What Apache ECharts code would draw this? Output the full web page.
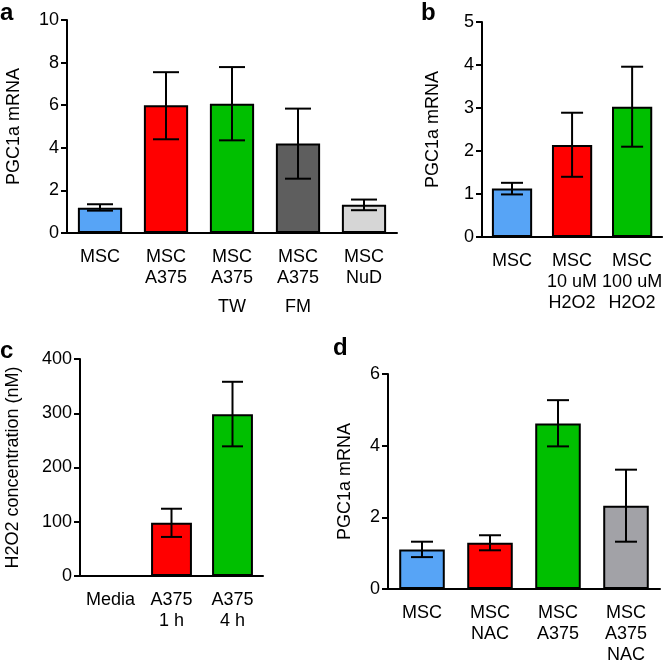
<!DOCTYPE html>
<html>
<head>
<meta charset="utf-8">
<script src="https://cdn.jsdelivr.net/npm/echarts@6/dist/echarts.min.js"></script>
<style>
html,body{margin:0;padding:0;background:#fff;}
#chart{width:665px;height:666px;}
</style>
</head>
<body>
<div id="chart"></div>
<script>
// ---- data ----
var catsA = ['MSC', 'MSC\nA375', 'MSC\nA375\nTW', 'MSC\nA375\nFM', 'MSC\nNuD'];
var valsA = [1.19, 6.0, 6.07, 4.2, 1.33];
var errLowA = [1.05, 4.4, 4.35, 2.55, 1.07];
var errHighA = [1.35, 7.55, 7.79, 5.84, 1.57];

var catsB = ['MSC', 'MSC\n10 uM\nH2O2', 'MSC\n100 uM\nH2O2'];
var valsB = [1.13, 2.14, 3.03];
var errLowB = [0.99, 1.40, 2.10];
var errHighB = [1.26, 2.89, 3.96];

var catsC = ['Media', 'A375\n1 h', 'A375\n4 h'];
var valsC = [0, 98, 298];
var errLowC = [null, 72, 239];
var errHighC = [null, 124, 358];

var catsD = ['MSC', 'MSC\nNAC', 'MSC\nA375', 'MSC\nA375\nNAC'];
var valsD = [1.10, 1.29, 4.62, 2.32];
var errLowD = [0.89, 1.08, 3.98, 1.32];
var errHighD = [1.32, 1.50, 5.27, 3.33];

var yTitleA = 'PGC1a mRNA';
var yTitleB = 'PGC1a mRNA';
var yTitleC = 'H2O2 concentration (nM)';
var yTitleD = 'PGC1a mRNA';

// ---- styles ----
var BLUE = '#57a4f6', RED = '#ff0000', GREEN = '#00bf00', DGRAY = '#5e5e5e', LGRAY = '#d6d6d6', MGRAY = '#a2a2a7';
var colorsA = [BLUE, RED, GREEN, DGRAY, LGRAY];
var colorsB = [BLUE, RED, GREEN];
var colorsC = [BLUE, RED, GREEN];
var colorsD = [BLUE, RED, GREEN, MGRAY];
var FONT = '"Liberation Sans", Arial, Helvetica, sans-serif';
var FS = 18;

var chart = echarts.init(document.getElementById('chart'), null, {renderer: 'canvas'});

var grids = [
  {left: 67, top: 20, width: 330, height: 213},
  {left: 482, top: 22, width: 181, height: 215},
  {left: 80, top: 359, width: 183, height: 217},
  {left: 388, top: 374, width: 272, height: 218}
];

function xAx(i, cats, rich) {
  var lbl = {
    color: '#000', fontSize: FS, fontFamily: FONT, lineHeight: 21, margin: 14, interval: 0
  };
  if (rich) {
    lbl.formatter = function (v) {
      var p = v.split('\n');
      if (p.length === 3) return p[0] + '\n' + p[1] + '\n{t|' + p[2] + '}';
      return v;
    };
    lbl.rich = {t: {fontSize: FS, fontFamily: FONT, color: '#000', lineHeight: 36}};
  }
  return {
    type: 'category', gridIndex: i, data: cats,
    axisLine: {lineStyle: {color: '#000', width: 2}},
    axisTick: {alignWithLabel: true, length: 6, lineStyle: {color: '#000', width: 2}},
    axisLabel: lbl,
    splitLine: {show: false}
  };
}
function yAx(i, max, interval, name, gap) {
  return {
    type: 'value', gridIndex: i, min: 0, max: max, interval: interval,
    name: name, nameLocation: 'middle', nameGap: gap, nameRotate: 90,
    nameTextStyle: {color: '#000', fontSize: FS, fontFamily: FONT},
    axisLine: {show: true, lineStyle: {color: '#000', width: 2}},
    axisTick: {show: true, length: 6, lineStyle: {color: '#000', width: 2}},
    axisLabel: {color: '#000', fontSize: FS, fontFamily: FONT, margin: 8},
    splitLine: {show: false}
  };
}
function barSeries(i, vals, colors) {
  return {
    type: 'bar', xAxisIndex: i, yAxisIndex: i, barWidth: '67%', z: 2,
    data: vals.map(function (v, k) {
      return {value: v, itemStyle: {color: colors[k], borderColor: '#000', borderWidth: 2}};
    })
  };
}
function errSeries(i, lows, highs, hw) {
  var d = [];
  lows.forEach(function (l, k) { if (l != null) d.push([k, l, highs[k]]); });
  return {
    type: 'custom', xAxisIndex: i, yAxisIndex: i, z: 5,
    data: d,
    encode: {x: 0, y: [1, 2]},
    renderItem: function (params, api) {
      var x = api.value(0);
      var lo = api.coord([x, api.value(1)]);
      var hi = api.coord([x, api.value(2)]);
      var st = {stroke: '#000', lineWidth: 2, fill: null};
      return {
        type: 'group',
        children: [
          {type: 'line', shape: {x1: lo[0], y1: lo[1], x2: hi[0], y2: hi[1]}, style: st},
          {type: 'line', shape: {x1: lo[0] - hw, y1: lo[1], x2: lo[0] + hw, y2: lo[1]}, style: st},
          {type: 'line', shape: {x1: hi[0] - hw, y1: hi[1], x2: hi[0] + hw, y2: hi[1]}, style: st}
        ]
      };
    }
  };
}

function panelLetter(t, x, y) {
  return {type: 'text', x: x, y: y, style: {text: t, font: 'bold 24px ' + FONT, fill: '#000', textVerticalAlign: 'middle'}};
}

var option = {
  animation: false,
  backgroundColor: '#fff',
  grid: grids,
  xAxis: [xAx(0, catsA, true), xAx(1, catsB, false), xAx(2, catsC, false), xAx(3, catsD, false)],
  yAxis: [
    yAx(0, 10, 2, yTitleA, 44),
    yAx(1, 5, 1, yTitleB, 40),
    yAx(2, 400, 100, yTitleC, 58),
    yAx(3, 6, 2, yTitleD, 34)
  ],
  series: [
    barSeries(0, valsA, colorsA), errSeries(0, errLowA, errHighA, 13),
    barSeries(1, valsB, colorsB), errSeries(1, errLowB, errHighB, 11),
    barSeries(2, valsC, colorsC), errSeries(2, errLowC, errHighC, 10.5),
    barSeries(3, valsD, colorsD), errSeries(3, errLowD, errHighD, 11)
  ],
  graphic: [
    panelLetter('a', 0, 13),
    panelLetter('b', 421, 13),
    panelLetter('c', 0, 351),
    panelLetter('d', 333, 348)
  ]
};
chart.setOption(option);
</script>
</body>
</html>
